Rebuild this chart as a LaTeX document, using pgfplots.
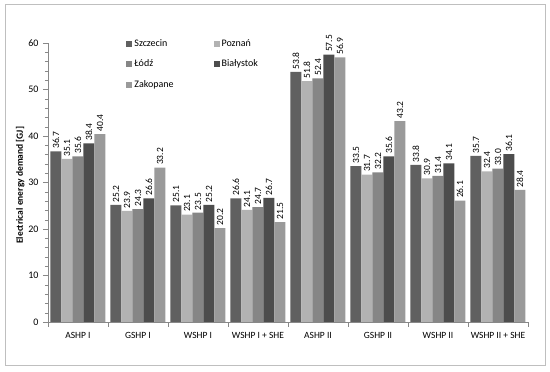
\documentclass[border=0pt]{standalone}
\usepackage{pgfplots}
\pgfplotsset{compat=1.18}
\usepackage{fontspec}
\setmainfont{Carlito}
\definecolor{cSz}{HTML}{606060}
\definecolor{cPo}{HTML}{B2B2B2}
\definecolor{cLo}{HTML}{868686}
\definecolor{cBi}{HTML}{4D4D4D}
\definecolor{cZa}{HTML}{9A9A9A}
\definecolor{frame}{HTML}{BFBFBF}
\definecolor{axg}{HTML}{888888}
\begin{document}
\begin{tikzpicture}[x=1pt,y=1pt]
\useasboundingbox (0,0) rectangle (550,372);
\draw[frame] (5,7) rectangle (545,368);
\begin{axis}[
  at={(48pt,50pt)}, anchor=south west,
  scale only axis, width=480pt, height=279pt,
  xmin=-0.5, xmax=7.5, ymin=0, ymax=60,
  ybar=0pt, bar width=11pt,
  separate axis lines,
  axis x line*=bottom, axis y line*=left,
  axis line style={draw=axg,-},
  tick style={draw=axg},
  tick align=outside,
  major tick length=5pt, minor tick length=3pt,
  xtick={-0.5,0.5,...,7.5},
  x tick label as interval,
  xticklabels={ASHP I,GSHP I,WSHP I,WSHP I + SHE,ASHP II,GSHP II,WSHP II,WSHP II + SHE},
  xticklabel style={font=\fontsize{9.5}{11}\selectfont, yshift=-2pt},
  ytick={0,10,...,60}, minor y tick num=4,
  yticklabel style={font=\fontsize{10}{12}\selectfont, xshift=-1pt},
  /pgf/number format/assume math mode=true,
  ylabel={\textbf{Electrical energy demand [GJ]}},
  ylabel style={at={(axis description cs:-0.058,0.49)}, anchor=center, font=\fontsize{9.5}{11}\selectfont},
  nodes near coords={\pgfmathprintnumber[fixed,fixed zerofill,precision=1,assume math mode=true]{\pgfplotspointmeta}},
  every node near coord/.append style={rotate=90, anchor=west, font=\fontsize{9.5}{11}\selectfont, black, inner sep=2.5pt},
  legend columns=2,
  legend cell align=left,
  legend image code/.code={\fill[#1] (0pt,-3pt) rectangle (6pt,3pt);},
  legend style={draw=none, fill=none, at={(0.163,1.02)}, anchor=north west,
    font=\fontsize{10}{12}\selectfont, row sep=8pt, inner sep=0pt,
    /tikz/every even column/.append style={column sep=38pt}},
]
\addplot[fill=cSz, draw=none] coordinates {(0,36.7) (1,25.2) (2,25.1) (3,26.6) (4,53.8) (5,33.5) (6,33.8) (7,35.7)};
\addplot[fill=cPo, draw=none] coordinates {(0,35.1) (1,23.9) (2,23.1) (3,24.1) (4,51.8) (5,31.7) (6,30.9) (7,32.4)};
\addplot[fill=cLo, draw=none] coordinates {(0,35.6) (1,24.3) (2,23.5) (3,24.7) (4,52.4) (5,32.2) (6,31.4) (7,33.0)};
\addplot[fill=cBi, draw=none] coordinates {(0,38.4) (1,26.6) (2,25.2) (3,26.7) (4,57.5) (5,35.6) (6,34.1) (7,36.1)};
\addplot[fill=cZa, draw=none] coordinates {(0,40.4) (1,33.2) (2,20.2) (3,21.5) (4,56.9) (5,43.2) (6,26.1) (7,28.4)};
\legend{Szczecin,Poznań,Łódź,Białystok,Zakopane}
\end{axis}
\end{tikzpicture}
\end{document}
